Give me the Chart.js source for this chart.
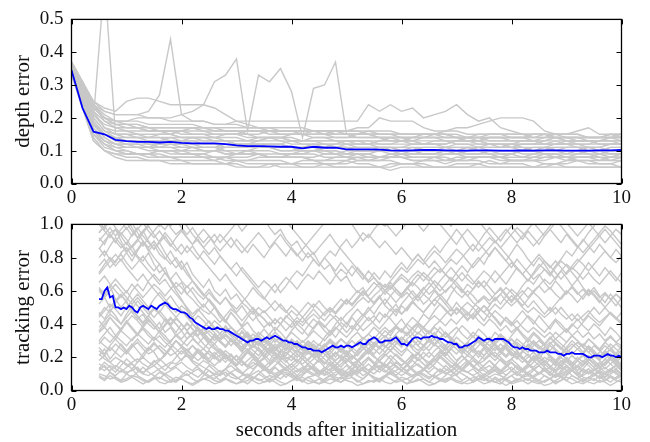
<!DOCTYPE html>
<html>
<head>
<meta charset="utf-8">
<script src="https://cdn.jsdelivr.net/npm/chart.js@4/dist/chart.umd.min.js"></script>
<style>
  html, body { margin: 0; padding: 0; background: #fff; }
  #wrap { position: relative; width: 650px; height: 442px; }
  canvas { position: absolute; left: 0; }
  #depth { top: 0; }
  #track { top: 205px; }
</style>
</head>
<body>
<div id="wrap">
  <canvas id="depth" width="650" height="205"></canvas>
  <canvas id="track" width="650" height="237"></canvas>
</div>
<script>
// tick labels
const secondTicks = [0, 2, 4, 6, 8, 10]
const depthTicks = [0, 0.1, 0.2, 0.3, 0.4, 0.5]
const trackTicks = [0, 0.2, 0.4, 0.6, 0.8, 1.0]

// sample times (seconds)
function timeGrid(a, b, dt) {
  const out = []
  const n = Math.round((b - a) / dt)
  for (let i = 0; i <= n; i++) out.push(+(a + i * dt).toFixed(3))
  return out
}
const depthTimes = timeGrid(0, 10, 0.2)
const trackTimes = timeGrid(0.5, 10, 0.1)
const trackMeanTimes = timeGrid(0.5, 10, 0.05)

// depth error of each run, in hundredths
const depthRuns = [
  [34,24,14,10,9,8,8,7,7,7,7, 6,6,6,6,5,5,5,6,5,5, 5,5,6,5,5,5,5,5,4,5, 5,5,5,5,5,5,6,5,5,5, 5,5,5,6,5,5,5,5,5,5],
  [35,26,16,12,10,9,9,8,8,8,7, 7,7,7,6,7,6,6,6,6,6, 6,6,6,6,7,6,6,5,6,6, 6,5,5,5,6,6,6,7,6,6, 6,5,6,6,6,7,6,6,6,5],
  [36,27,17,13,11,10,9,9,9,8,8, 8,8,7,8,7,7,7,7,7,6, 7,7,6,6,6,7,7,7,7,6, 6,7,7,6,7,7,7,6,6,7, 7,7,6,6,7,7,7,6,6,7],
  [34,25,15,11,10,10,9,9,10,9,9, 9,8,8,8,8,8,9,8,8,8, 8,7,7,8,8,7,7,8,8,8, 7,7,8,8,7,7,8,8,8,7, 7,8,8,8,7,8,8,8,7,8],
  [35,26,18,14,12,11,11,10,10,10,10, 9,9,10,9,9,9,9,8,8,9, 9,9,8,8,8,9,8,8,9,9, 8,8,8,9,9,8,8,8,8,9, 8,8,9,9,8,8,8,9,8,8],
  [37,28,19,15,13,12,12,11,11,11,10, 10,10,10,10,9,10,9,9,9,9, 10,10,9,9,9,9,9,8,8,9, 9,9,9,10,9,9,9,9,8,8, 8,9,9,8,8,9,9,8,8,9],
  [36,27,17,13,12,11,11,11,10,10,10, 11,10,10,9,9,10,10,10,9,9, 9,10,10,10,9,9,9,10,10,9, 9,9,9,9,9,10,10,9,9,9, 10,10,9,9,9,10,10,9,9,9],
  [34,24,16,13,12,12,12,12,11,11,11, 11,11,11,10,10,10,11,11,10,10, 10,10,10,9,10,10,10,10,9,9, 10,10,10,10,10,9,9,10,10,10, 9,9,10,10,10,10,9,9,10,10],
  [36,29,20,16,14,13,13,12,12,12,12, 12,11,11,11,11,12,11,11,11,11, 10,10,11,11,11,10,10,10,11,11, 11,10,10,10,10,11,11,10,10,10, 10,11,11,10,10,10,11,11,10,10],
  [35,25,15,12,11,11,11,11,11,12,12, 11,11,11,12,12,11,11,11,11,11, 11,12,12,11,11,11,11,11,10,10, 11,11,11,11,10,10,11,11,11,11, 11,10,10,11,11,11,11,10,11,11],
  [37,30,22,17,15,14,14,13,13,13,13, 13,12,12,12,12,12,12,12,12,13, 12,12,11,11,12,12,12,11,11,11, 12,12,12,11,11,11,11,12,12,12, 11,11,11,12,12,11,11,11,12,12],
  [36,28,19,15,14,13,13,13,13,14,13, 13,13,13,13,12,12,13,13,13,12, 12,12,12,12,13,13,12,12,12,12, 12,12,13,13,12,12,12,12,12,11, 12,12,12,12,12,12,11,11,12,12],
  [34,26,18,15,14,14,14,14,14,13,13, 14,14,14,13,13,13,13,14,14,13, 13,13,13,13,13,12,12,13,13,13, 13,12,12,12,13,13,13,12,12,12, 13,13,12,12,12,13,13,12,12,12],
  [35,28,21,17,16,16,15,15,15,15,14, 14,14,14,15,15,14,14,14,14,13, 13,14,14,13,13,13,13,13,14,14, 13,13,13,13,13,14,13,13,13,13, 13,13,13,14,13,13,13,13,13,13],
  [37,31,24,19,17,16,16,16,16,16,15, 15,15,15,15,15,15,14,14,14,15, 15,14,14,14,14,14,14,14,13,13, 14,14,14,14,14,13,13,14,14,14, 14,13,13,14,14,14,13,13,14,14],
  [36,29,21,18,17,17,17,16,16,16,16, 16,16,15,15,15,16,16,15,15,15, 15,15,15,14,14,15,15,14,14,14, 14,14,15,15,14,14,14,14,14,14, 14,15,15,14,14,14,14,14,15,15],
  [35,29,23,20,18,18,18,17,17,17,17, 17,16,16,16,16,16,16,16,15,15, 15,16,16,15,15,15,15,15,15,15, 15,15,15,15,15,14,14,15,15,15, 15,14,14,15,15,15,14,14,15,14],
  [36,30,24,21,19,19,19,18,18,18,18, 18,17,17,17,17,17,17,16,16,16, 16,16,16,16,15,15,16,16,16,15, 15,15,15,16,16,15,15,15,15,15, 15,15,15,15,15,16,17,15,15,15],
  [33,23,13,10,9,9,9,9,8,8,8, 8,8,8,7,7,7,8,8,8,8, 8,7,7,7,7,8,8,8,8,8, 7,7,7,7,8,8,8,8,7,7, 7,7,7,8,8,8,8,7,7,7],
  [37,31,23,20,19,18,17,16,16,15,14, 14,13,13,13,12,12,12,12,12,11, 11,11,11,11,11,10,10,10,10,10, 10,10,10,11,11,11,10,10,10,10, 10,10,10,10,11,11,11,10,10,10],
  [36,27,18,14,12,12,11,11,12,12,11, 11,10,10,11,11,12,12,11,10,10, 11,11,10,10,9,10,10,11,11,10, 10,9,9,10,10,11,10,10,9,9, 10,10,11,10,9,9,10,10,9,9],
  [35,28,20,16,15,15,14,14,15,15,16, 15,15,14,14,14,13,13,14,14,14, 13,13,12,12,13,13,13,12,12,13, 13,12,12,12,13,13,12,12,11,12, 12,12,13,13,12,12,12,13,13,12],
  [34,24,15,12,10,9,9,9,10,10,9, 9,9,8,8,9,9,9,8,8,8, 8,8,9,9,8,8,7,7,8,8, 8,8,8,7,7,8,8,8,8,7, 7,7,8,8,8,7,7,7,8,8],
  [37,31,24,20,18,17,17,17,16,16,16, 17,17,16,16,16,15,15,16,16,16, 15,15,15,16,16,16,15,15,15,14, 14,15,15,15,14,14,15,15,15,14, 14,14,15,15,14,14,14,14,14,15],
  [36,28,18,15,13,13,13,12,12,13,13, 12,12,12,11,11,11,12,12,12,11, 11,11,11,12,12,11,11,11,11,10, 10,11,11,11,12,12,11,11,11,11, 10,10,11,11,11,11,10,10,11,11],
  [34,23,13,10,8,7,7,7,7,6,6, 6,6,6,6,6,5,5,5,6,6, 5,5,5,5,5,5,5,5,5,6, 6,6,5,5,5,5,5,5,5,5, 5,5,5,5,5,5,5,5,5,5],
  [36,29,20,62,15,15,15,14,14,14,14, 14,14,13,13,13,13,14,14,13,13, 13,13,13,13,12,12,12,13,13,13, 12,12,12,12,13,13,13,12,12,12, 12,12,12,13,13,12,12,12,12,12],
  [36,30,24,22,21,21,21,22,27,44,21, 19,19,18,18,18,17,17,17,16,16, 16,16,15,15,15,15,15,14,14,14, 14,14,14,14,14,14,14,13,13,13, 13,13,14,14,14,13,13,13,13,13],
  [37,31,25,22,21,21,21,20,20,20,21, 22,24,31,33,38,16,33,31,35,28, 14,29,30,37,15,14,14,14,14,13, 13,14,14,13,13,13,13,14,14,13, 13,13,12,12,13,13,13,12,12,12],
  [37,31,25,23,22,25,26,26,25,24,24, 24,24,23,21,19,18,17,17,17,17, 17,16,16,16,16,16,16,15,15,15, 15,15,15,14,14,14,14,14,14,14, 14,14,14,14,13,13,13,13,14,14],
  [36,30,23,20,19,19,20,20,20,19,19, 19,19,18,18,19,19,19,19,19,19, 19,19,19,19,19,19,24,22,24,22, 23,20,21,22,24,21,19,20,17,16, 15,15,15,14,14,14,14,14,14,13],
  [36,29,22,19,18,18,18,17,17,17,17, 17,17,17,16,16,16,16,16,16,16, 16,16,16,16,16,17,17,20,19,19, 19,17,16,16,17,17,18,19,20,20, 20,19,16,15,15,15,14,14,14,14]
]
const depthMean = [0.345,0.23,0.158,0.15,0.133,0.129,0.127,0.127,0.125,0.127,0.124,
  0.122,0.122,0.122,0.12,0.116,0.114,0.114,0.113,0.112,0.112,
  0.107,0.112,0.109,0.109,0.104,0.104,0.104,0.103,0.101,0.1,
  0.101,0.102,0.102,0.101,0.1,0.1,0.101,0.101,0.1,0.1,
  0.101,0.1,0.101,0.101,0.1,0.1,0.1,0.101,0.101,0.102]

// tracking error of each run, in hundredths, every 0.1 s from 0.5 s
const trackRuns = [
  [10,9,7,8,6,7,9,8,6,5, 7,8,6,5,6,7,5,4,6,7, 8,6,5,7,6,4,5,6,8,7, 5,6,7,5,4,6,7,8,6,5, 4,5,7,6,5,7,8,6,4,5,
   6,7,5,4,6,8,7,5,6,7, 5,4,6,7,8,6,5,4,5,7, 8,6,5,7,6,4,5,6,7,5, 4,6,7,5,6,8,7,5,4,6, 7,5,6,8,6,5],
  [16,14,12,15,13,11,12,14,10,9, 11,13,15,17,16,19,21,18,16,14, 12,10,9,11,8,7,9,10,8,6, 7,9,8,10,11,9,7,6,8,9, 11,12,10,8,7,9,11,13,12,10,
   8,7,9,10,8,6,7,9,11,10, 8,9,7,6,8,10,12,11,9,7, 6,8,10,9,7,5,6,8,9,7, 6,5,7,9,8,10,12,10,8,7, 9,11,10,8,7,9],
  [22,19,17,20,18,15,17,19,16,14, 17,19,16,13,15,17,14,12,15,18, 16,14,11,13,15,12,10,13,15,17, 14,12,10,12,14,16,13,11,13,15, 12,10,9,11,13,11,9,12,14,12,
   10,13,15,13,11,9,11,14,16,13, 11,14,12,10,12,15,13,11,9,11, 13,15,12,10,12,14,11,9,11,13, 15,12,10,8,10,12,14,11,9,11, 13,10,8,10,12,10],
  [30,27,24,28,25,22,26,29,25,22, 24,27,24,21,23,26,22,20,23,25, 22,19,21,24,21,18,20,23,20,17, 19,22,25,22,19,21,18,16,19,22, 20,17,15,18,21,19,16,18,21,23,
   20,18,21,24,21,18,16,19,22,19, 17,20,23,20,17,15,18,21,19,16, 18,21,23,20,17,19,22,19,16,14, 17,20,18,15,17,20,17,14,16,19, 17,14,16,19,16,14],
  [35,38,34,31,36,33,30,34,37,33, 30,33,29,26,30,27,24,27,24,21, 24,21,18,20,17,15,18,15,13,16, 14,12,14,11,13,10,12,14,11,9, 12,10,13,15,12,10,13,11,14,12,
   15,13,16,14,17,15,18,21,18,20, 23,20,24,21,25,22,26,23,20,24, 21,25,28,24,21,25,22,19,22,18, 15,18,14,17,13,15,12,14,11,13, 10,12,14,11,13,10],
  [42,38,44,40,36,41,37,33,38,35, 31,36,33,29,34,31,35,32,28,32, 29,33,30,27,31,28,25,29,26,30, 27,24,28,25,22,26,23,27,24,21, 25,28,24,27,31,28,25,29,26,23,
   27,30,27,24,28,32,29,26,30,27, 24,28,25,22,26,29,26,23,27,31, 28,25,29,33,30,27,31,28,25,29, 26,23,27,24,21,25,28,25,22,26, 23,20,24,21,18,22],
  [14,12,15,13,11,14,16,13,11,13, 15,12,10,12,14,11,9,11,13,10, 8,10,12,9,11,13,10,8,10,12, 9,7,9,11,13,10,8,10,12,14, 11,9,11,13,10,8,10,12,9,11,
   13,15,12,10,12,14,11,9,11,13, 10,8,10,12,14,16,13,11,13,10, 8,10,12,9,7,9,11,13,10,8, 10,12,14,11,9,11,13,15,12,10, 12,14,11,13,15,12],
  [24,21,26,23,20,24,27,31,27,24, 28,25,22,26,30,27,24,21,25,22, 19,23,20,17,21,18,22,25,22,19, 23,26,23,20,17,21,24,21,18,22, 19,16,20,23,20,17,21,18,15,19,
   16,20,23,27,24,21,25,22,19,23, 20,24,27,24,28,25,22,26,23,27, 30,27,24,28,25,21,24,20,17,21, 18,15,19,16,20,17,14,18,15,19, 16,13,17,20,17,15],
  [36,40,44,40,37,41,45,42,38,42, 39,35,39,43,40,36,40,37,33,37, 34,30,34,31,27,31,28,24,28,25, 21,25,22,19,23,20,17,21,18,15, 19,16,20,17,14,18,21,18,22,25,
   22,26,23,27,30,27,31,34,30,27, 31,28,32,35,31,28,25,29,26,22, 26,23,20,24,27,23,20,24,21,18, 22,25,21,18,22,19,16,20,17,21, 18,15,19,22,18,16],
  [12,15,11,9,12,10,8,11,14,11, 9,7,10,8,6,9,12,10,8,11, 9,7,10,13,10,8,6,9,7,10, 13,11,9,7,10,8,6,9,12,10, 8,6,9,7,5,8,11,9,7,10,
   8,6,9,12,15,12,10,8,11,9, 7,10,13,11,9,12,10,8,6,9, 7,5,8,6,9,12,10,8,6,9, 11,9,7,10,8,6,9,7,5,8, 10,8,6,9,7,9],
  [28,32,29,33,30,27,31,34,31,28, 32,29,26,30,33,30,27,31,28,25, 29,32,29,26,30,27,24,28,31,28, 25,29,26,23,27,30,27,24,28,25, 22,26,29,26,23,27,24,21,25,28,
   32,29,26,30,33,30,27,31,35,32, 29,33,30,27,31,28,25,29,26,30, 27,24,28,31,28,25,29,26,23,27, 30,27,24,28,25,22,26,29,26,23, 27,24,21,25,28,25],
  [18,21,17,14,18,16,13,17,20,17, 15,18,22,26,30,27,31,35,32,28, 25,28,24,21,18,21,17,14,17,15, 12,15,18,15,12,14,11,13,16,13, 11,14,12,9,12,15,12,10,13,16,
   13,11,14,17,14,12,15,18,15,13, 16,19,16,13,11,14,12,15,18,15, 12,10,13,11,14,17,14,12,15,13, 10,13,11,8,11,14,12,10,13,11, 9,12,10,13,11,9],
  [8,6,9,7,5,6,8,6,4,6, 8,5,4,6,8,7,5,3,5,7, 6,4,5,7,5,4,6,8,6,4, 5,7,5,3,4,6,8,6,4,5, 7,5,4,6,8,6,5,3,4,6,
   5,7,9,7,5,6,4,5,7,5, 3,4,6,5,7,5,4,6,8,6, 4,5,7,5,3,5,7,6,4,6, 5,3,4,6,8,6,4,5,7,5, 4,6,5,3,5,7],
  [52,56,50,54,58,53,49,54,50,46, 50,47,52,48,44,48,45,41,45,42, 38,42,39,35,38,34,31,34,30,27, 30,27,24,27,24,27,30,27,24,21, 24,27,25,28,31,28,32,35,31,34,
   38,35,32,36,39,36,33,37,40,37, 34,38,35,32,35,38,34,31,35,32, 29,32,28,25,28,31,27,24,27,30, 27,24,28,31,28,25,22,25,28,25, 22,19,22,25,22,19],
  [44,48,52,49,45,50,54,58,54,50, 55,59,55,51,47,51,48,44,48,52, 48,45,41,45,49,46,42,46,50,46, 43,39,43,40,36,40,44,41,45,49, 45,42,46,43,39,35,39,36,40,44,
   40,37,41,45,49,46,50,54,50,47, 51,55,58,54,50,46,50,47,43,47, 51,47,44,40,44,41,37,41,45,42, 38,35,39,43,40,36,40,37,41,45, 42,39,43,47,44,41],
  [38,42,46,43,40,44,48,45,41,45, 49,46,42,39,43,40,36,40,37,34, 38,35,31,34,31,28,32,29,26,29, 26,23,26,29,26,23,20,23,26,23, 20,24,21,18,21,24,21,18,22,25,
   28,25,29,32,29,26,30,27,24,27, 31,28,25,22,25,28,24,21,25,22, 19,22,26,23,20,23,20,17,20,23, 20,17,21,18,15,18,21,18,15,18, 21,18,15,19,16,14],
  [62,58,63,67,63,59,64,60,56,60, 64,61,57,61,65,62,58,62,58,55, 59,55,52,56,52,49,53,50,46,50, 47,50,54,50,47,51,48,44,48,52, 49,45,49,46,50,54,51,55,59,56,
   52,56,60,57,53,57,61,65,62,58, 62,66,63,59,63,67,71,67,64,68, 72,69,65,69,73,77,73,70,74,78, 82,78,74,78,74,70,74,71,67,71, 67,64,68,72,68,65],
  [110,105,112,106,100,104,98,92,96,90, 85,89,83,78,74,78,72,66,62,58, 54,50,46,42,38,35,38,34,31,35, 32,29,33,30,27,31,28,25,29,26, 23,27,30,27,31,28,25,29,32,29,
   26,30,33,30,34,37,34,38,41,38, 42,45,42,46,49,46,50,53,50,54, 57,54,58,61,57,53,57,60,56,60, 63,59,62,58,55,59,62,58,61,57, 60,56,59,55,58,55],
  [85,90,94,89,95,91,86,90,95,99, 94,89,93,88,84,88,83,87,82,78, 74,70,66,70,65,61,57,53,49,45, 48,44,40,44,41,38,42,39,43,46, 43,47,50,47,51,55,52,56,60,57,
   61,65,62,66,70,74,71,75,79,76, 80,84,81,77,81,85,82,78,74,78, 82,86,90,86,82,78,74,70,66,70, 74,78,75,71,67,71,75,79,76,72, 76,80,84,80,77,81],
  [125,120,128,122,118,123,116,112,117,110, 105,100,104,98,94,97,92,88,91,86, 90,94,89,93,97,101,96,100,104,108, 103,107,111,106,102,98,94,90,86,82, 86,90,94,89,85,81,77,73,69,65,
   68,64,60,63,59,56,59,55,58,62, 58,61,57,60,63,59,56,60,57,53, 56,52,55,58,54,51,54,50,47,50, 47,44,47,50,46,43,46,42,45,48, 44,41,44,47,43,40],
  [95,99,94,90,86,89,84,80,76,72, 68,64,67,62,58,54,50,46,49,45, 41,37,34,38,34,31,35,32,29,33, 30,27,31,28,25,29,26,30,27,24, 28,25,22,26,23,27,30,27,31,34,
   31,35,38,35,39,36,40,37,34,38, 35,39,42,39,43,40,44,47,44,48, 51,48,52,49,53,57,54,58,62,59, 63,67,64,68,72,76,73,77,81,85, 89,93,97,93,89,85],
  [105,110,104,108,113,107,111,106,102,107, 103,108,104,99,103,98,94,98,93,89, 93,88,84,88,92,87,83,87,91,95, 91,86,90,94,89,85,81,85,89,93, 97,101,105,100,104,108,112,107,111,115,
   110,106,101,97,93,97,101,105,100,96, 100,104,108,103,99,103,107,111,106,102, 98,94,90,86,90,94,98,95,91,87, 91,95,99,103,99,95,91,87,83,87, 91,95,99,96,92,88],
  [75,79,74,78,82,77,73,77,81,76, 72,76,71,67,71,66,62,66,61,57, 61,56,52,56,51,47,51,46,42,46, 43,39,43,40,44,48,45,49,53,50, 54,50,47,51,55,52,56,60,57,61,
   65,62,58,62,66,70,67,63,67,71, 68,64,60,64,68,65,61,57,61,65, 62,58,54,58,62,59,55,51,55,59, 56,52,48,52,56,60,57,53,57,61, 58,54,50,54,58,55],
  [65,69,64,60,56,60,55,51,47,43, 39,35,31,28,25,22,25,21,18,21, 18,15,18,22,19,16,19,23,20,17, 20,24,21,18,21,25,22,19,16,19, 22,19,16,13,16,19,16,13,17,20,
   17,14,17,21,18,15,18,22,19,16, 13,16,20,17,14,17,21,18,15,12, 15,18,15,12,15,19,16,13,16,20, 17,14,11,14,18,15,12,15,18,15, 12,15,19,16,13,16],
  [90,94,98,93,97,101,96,92,96,100, 104,99,103,108,112,117,121,126,130,134, 138,140,140,140,140,140,140,140,140,140, 140,140,140,140,140,140,140,140,140,140, 136,130,124,118,112,106,100,95,90,94,
   90,86,90,86,82,86,82,78,82,78, 74,78,74,70,74,70,66,70,66,62, 66,62,58,62,58,54,58,54,50,54, 50,46,50,46,50,46,42,46,42,46, 50,46,50,46,43,47],
  [70,74,78,82,78,83,87,91,87,92, 96,100,97,102,106,103,99,94,90,86, 82,86,81,77,73,77,72,68,64,60, 56,52,48,52,48,44,40,44,40,37, 41,38,42,45,42,46,49,53,56,53,
   57,60,64,61,65,68,65,69,72,69, 66,70,73,70,67,63,60,57,53,50, 47,44,48,45,42,39,42,38,35,38, 35,32,35,31,34,37,33,36,32,35, 31,34,30,33,29,32],
  [80,84,79,75,79,74,70,66,70,65, 61,57,53,57,52,48,44,40,36,32, 28,25,22,19,22,18,15,18,21,18, 15,12,15,18,15,12,9,12,15,12, 9,12,15,12,9,12,15,18,15,12,
   15,18,15,12,9,12,15,12,9,12, 15,18,21,18,15,12,15,18,15,12, 9,12,15,12,9,12,15,12,9,12, 15,12,9,12,15,12,9,7,10,13, 10,7,10,13,10,8],
  [115,110,104,108,102,97,101,95,90,86, 90,85,80,76,80,75,70,66,62,58, 54,50,46,42,38,35,32,35,31,28, 31,28,25,28,31,28,25,22,25,28, 25,22,19,22,25,22,19,22,25,28,
   25,22,26,29,26,23,26,30,27,24, 27,31,28,25,28,32,29,26,29,33, 30,27,30,34,31,28,24,27,31,28, 25,28,32,29,26,23,26,29,26,23, 20,23,27,24,21,24],
  [60,56,60,64,60,56,52,56,52,48, 44,48,44,40,44,40,36,40,36,33, 36,33,30,33,30,27,30,33,30,27, 30,34,31,28,31,35,32,29,32,36, 33,30,34,38,35,32,36,40,44,48,
   52,56,52,57,61,58,62,66,70,66, 70,74,71,75,79,76,80,84,88,84, 88,92,89,93,97,93,89,93,97,101, 97,93,97,101,105,101,97,93,97,101, 97,93,89,93,97,94],
  [92,88,95,97,90,84,87,81,78,83, 76,71,74,66,62,65,58,55,51,48, 46,50,44,41,47,43,39,44,48,42, 38,41,36,40,45,42,37,34,39,43, 40,36,33,37,41,38,44,40,36,39,
   42,47,44,49,45,51,48,53,57,52, 55,60,56,52,58,63,59,64,61,66, 62,67,72,68,64,69,74,70,66,71, 76,73,69,74,78,75,71,67,72,77, 73,69,74,70,66,71],
  [71,76,80,77,83,86,81,85,90,84, 88,82,79,84,78,73,77,70,66,62, 67,60,57,61,55,58,53,57,62,58, 55,60,64,59,63,68,72,69,74,79, 75,80,84,81,87,91,86,90,95,92,
   97,101,99,104,108,103,107,112,108,104, 109,105,100,96,92,97,93,88,84,89, 85,81,86,82,78,74,79,75,71,67, 70,65,61,66,62,58,63,59,55,60, 57,53,58,55,51,56],
  [21,25,19,23,28,24,20,17,22,26, 23,18,21,25,30,26,22,19,24,20, 17,21,25,22,18,15,19,23,27,24, 20,16,19,22,18,14,17,21,24,20, 25,22,18,15,19,16,13,17,20,24,
   21,17,14,18,22,19,16,20,23,19, 15,18,22,26,22,18,21,17,14,17, 21,25,21,18,15,19,23,20,16,19, 22,18,15,12,16,19,15,18,21,17, 14,17,13,16,19,15],
  [47,43,49,45,40,46,51,44,40,45, 41,37,43,39,35,40,36,32,37,33, 29,34,30,26,31,27,23,28,24,21, 25,22,19,24,20,18,22,19,23,20, 17,21,24,20,26,23,19,24,28,25,
   29,26,31,28,33,30,35,31,27,32, 36,33,38,34,30,35,39,36,32,37, 34,30,35,32,28,33,37,33,29,34, 31,27,32,28,25,29,33,30,26,31, 28,24,29,26,22,27],
  [102,97,104,110,115,120,126,131,136,140, 140,140,140,140,140,140,140,140,140,140, 140,140,140,140,140,140,135,128,120,112, 104,98,94,97,91,87,90,84,80,83, 77,73,76,70,66,69,63,59,62,56,
   53,57,51,48,52,46,49,53,50,47, 51,55,52,48,45,49,46,42,46,50, 47,51,56,52,57,61,58,63,67,64, 69,73,70,75,79,84,81,86,90,95, 99,104,108,113,118,122],
  [13,17,14,11,15,19,16,12,10,14, 18,15,12,16,20,24,21,17,14,11, 15,12,9,13,17,14,11,8,12,16, 13,10,14,11,8,12,15,19,16,13, 10,13,17,14,11,9,12,16,13,10,
   14,18,22,19,15,12,16,13,10,13, 17,14,11,15,12,9,13,16,20,17, 14,11,15,19,16,12,9,12,16,13, 10,14,11,8,12,15,12,9,13,17, 14,11,8,12,15,13],
  [61,57,63,55,50,54,47,43,46,40, 37,41,35,38,33,36,31,34,38,35, 31,28,32,36,33,29,26,30,34,31, 27,31,35,32,28,25,29,26,30,27, 23,27,31,28,24,21,25,29,26,22,
   26,30,27,24,28,32,29,25,22,26, 30,27,31,35,32,28,25,29,33,29, 26,30,27,23,27,31,28,24,28,25, 22,26,29,25,22,26,30,27,23,27, 24,20,24,28,25,22],
  [100,96,92,97,93,88,94,98,93,89, 85,90,95,91,86,82,87,83,79,84, 80,76,81,77,73,69,74,70,66,62, 66,63,59,64,68,65,61,66,70,67, 72,68,64,69,73,70,75,71,67,72,
   68,64,60,65,61,57,62,58,54,58, 55,51,56,52,48,53,49,45,50,46, 42,47,43,39,44,40,44,48,44,40, 45,41,37,42,38,35,39,43,39,36, 40,37,33,38,35,31],
  [9,7,11,8,6,10,13,9,7,5, 8,11,9,6,5,8,10,7,5,9, 12,9,6,8,11,8,6,4,7,10, 8,5,7,10,13,10,7,5,8,6, 4,7,9,6,8,11,8,5,7,10,
   7,5,8,11,9,6,4,7,10,7, 5,8,6,9,12,9,6,8,5,7, 10,8,5,4,7,9,6,8,11,8, 6,9,7,4,6,9,12,9,6,8, 6,9,7,5,8,10],
  [45,50,47,53,57,54,60,64,60,66, 70,66,71,67,62,58,63,59,54,50, 55,51,46,42,47,43,38,41,36,33, 37,33,29,32,28,25,29,26,22,25, 21,24,20,23,19,22,26,23,27,31,
   28,32,36,33,38,35,40,44,41,46, 43,48,52,49,45,50,47,43,46,42, 39,43,40,36,39,35,38,34,31,35, 32,28,31,35,32,29,33,30,27,31, 28,25,29,32,29,27],
  [86,81,87,92,88,83,78,84,89,85, 80,76,71,66,60,55,49,44,38,34, 30,26,23,20,18,21,17,15,19,16, 14,17,20,16,13,16,19,15,12,15, 18,14,12,15,18,21,17,14,17,20,
   16,13,11,14,17,14,12,15,19,16, 13,16,20,23,19,16,13,17,14,12, 15,18,14,11,14,17,13,11,14,17, 20,16,13,11,14,18,15,12,15,19, 16,13,16,19,15,12],
  [30,34,38,33,37,42,38,34,39,43, 39,35,40,44,40,36,41,37,33,38, 42,38,34,39,35,31,36,32,28,33, 29,34,38,35,31,36,40,37,33,38, 42,39,35,40,44,40,45,49,45,50,
   46,51,55,51,47,52,56,60,56,61, 65,61,66,70,66,71,75,71,76,80, 76,82,86,82,78,83,88,84,79,75, 80,76,71,67,72,68,63,67,62,58, 62,57,53,58,54,50],
  [95,99,103,98,94,98,93,97,101,96, 92,96,91,87,92,96,92,88,93,97, 93,89,94,90,86,91,87,83,88,84, 80,85,89,85,81,86,82,78,83,79, 75,80,76,72,77,73,69,74,70,66,
   71,67,72,68,73,77,73,78,82,78, 83,87,83,88,92,88,93,97,93,89, 94,98,94,90,95,99,95,91,96,92, 88,93,97,93,89,94,90,86,91,87, 83,88,84,80,85,81],
  [26,22,27,31,27,23,28,24,20,25, 29,25,21,26,22,18,23,27,23,19, 24,20,17,22,18,15,20,24,21,26, 22,18,23,20,25,29,25,21,26,30, 27,32,36,32,37,41,37,42,46,42,
   45,41,46,43,39,43,38,34,39,35, 31,35,30,26,31,27,23,28,24,20, 25,21,18,22,26,22,19,23,27,23, 19,24,20,17,21,25,21,18,22,26, 22,18,23,19,16,21]
]
// mean tracking error, in hundredths, every 0.05 s from 0.5 s
const trackMean = [
  55,55,60,62,56,57,50,50,49,50,49,51,50,48,47,50,51,50,49,51,
  50,49,51,52,53,52,50,49,49,48,47,47,46,44,43,41,40,39,38,37,
  38,37,37,38,37,37,36,36,35,34,33,32,31,30,29,30,30,31,31,30,
  31,32,31,32,33,32,31,30,30,29,29,28,28,27,26,26,25,25,24,24,
  24,23,24,25,26,27,26,26,27,26,27,27,26,27,28,29,28,28,30,31,
  32,31,29,29,30,30,30,31,32,30,28,28,27,29,31,32,32,31,32,32,
  32,33,32,32,31,31,30,29,29,28,28,26,26,27,27,28,29,30,32,31,
  30,31,31,30,31,31,31,31,30,29,27,26,26,25,26,25,25,24,24,24,
  23,23,23,24,23,23,23,22,22,21,22,22,23,22,22,22,22,21,20,20,
  21,21,21,20,21,22,21,21,20,21,20
]

const GRAY = '#c8c8c8'
const BLUE = '#0000ff'
const TICK_FONT = { family: '"Liberation Serif", "Times New Roman", serif', size: 19 }
const TITLE_FONT = { family: '"Liberation Serif", "Times New Roman", serif', size: 21, lineHeight: 1.1 }
const INK = '#111'

const points = (times, vals, k) => vals.map((v, i) => ({ x: times[i], y: v * k })).filter(p => p.x !== undefined)

// ticks point inward on all four sides, plus the box
const frameTicks = {
  id: 'frameTicks',
  afterDatasetsDraw(chart) {
    const { ctx, chartArea: a, scales: { x, y } } = chart
    ctx.save()
    ctx.strokeStyle = '#000'
    ctx.lineWidth = 1
    ctx.beginPath()
    x.ticks.forEach(t => {
      const px = Math.round(x.getPixelForValue(t.value)) + 0.5
      ctx.moveTo(px, a.bottom); ctx.lineTo(px, a.bottom - 5)
      ctx.moveTo(px, a.top); ctx.lineTo(px, a.top + 5)
    })
    y.ticks.forEach(t => {
      const py = Math.round(y.getPixelForValue(t.value)) + 0.5
      ctx.moveTo(a.left, py); ctx.lineTo(a.left + 5, py)
      ctx.moveTo(a.right, py); ctx.lineTo(a.right - 5, py)
    })
    ctx.stroke()
    ctx.lineWidth = 1.3
    ctx.strokeRect(a.left, a.top, a.right - a.left, a.bottom - a.top)
    ctx.restore()
  }
}

function makeChart(id, gray, mean, cfg) {
  const datasets = [{ data: mean, borderColor: BLUE, borderWidth: 1.8, order: 0 }]
  gray.forEach(d => datasets.push({ data: d, borderColor: GRAY, borderWidth: 1.4, order: 1 }))
  return new Chart(document.getElementById(id), {
    type: 'line',
    data: { datasets },
    options: {
      responsive: false,
      animation: false,
      elements: { point: { radius: 0 }, line: { tension: 0 } },
      plugins: { legend: { display: false }, tooltip: { enabled: false } },
      layout: { padding: { top: cfg.top, right: 28.5, left: 0, bottom: 0 } },
      scales: {
        x: {
          type: 'linear', min: 0, max: 10,
          afterBuildTicks: s => { s.ticks = secondTicks.map(v => ({ value: v })) },
          ticks: { font: TICK_FONT, color: INK, padding: 3, maxRotation: 0, autoSkip: false },
          grid: { display: false, drawTicks: false },
          border: { display: false },
          title: { display: !!cfg.xTitle, text: cfg.xTitle || '', font: TITLE_FONT, color: INK, padding: { top: 0, bottom: 0 } },
          afterFit: s => { s.height = cfg.xh }
        },
        y: {
          type: 'linear', min: 0, max: cfg.yMax,
          afterBuildTicks: s => { s.ticks = cfg.yTicks.map(v => ({ value: v })) },
          ticks: { font: TICK_FONT, color: INK, padding: 8, callback: v => v.toFixed(1) },
          grid: { display: false, drawTicks: false },
          border: { display: false },
          title: { display: true, text: cfg.yTitle, font: TITLE_FONT, color: INK, padding: { top: 12.4, bottom: 0 } },
          afterFit: s => { s.width = 71.5 }
        }
      }
    },
    plugins: [frameTicks]
  })
}

makeChart('depth',
  depthRuns.map(r => points(depthTimes, r, 0.01)),
  points(depthTimes, depthMean, 1),
  { top: 12.5, xh: 21.5, yMax: 0.5, yTicks: depthTicks, yTitle: 'depth error' })

makeChart('track',
  trackRuns.map(r => points(trackTimes, r, 0.01)),
  points(trackMeanTimes, trackMean, 0.01),
  { top: 13.5, xh: 51.5, yMax: 1.0, yTicks: trackTicks, yTitle: 'tracking error', xTitle: 'seconds after initialization' })
</script>
</body>
</html>
